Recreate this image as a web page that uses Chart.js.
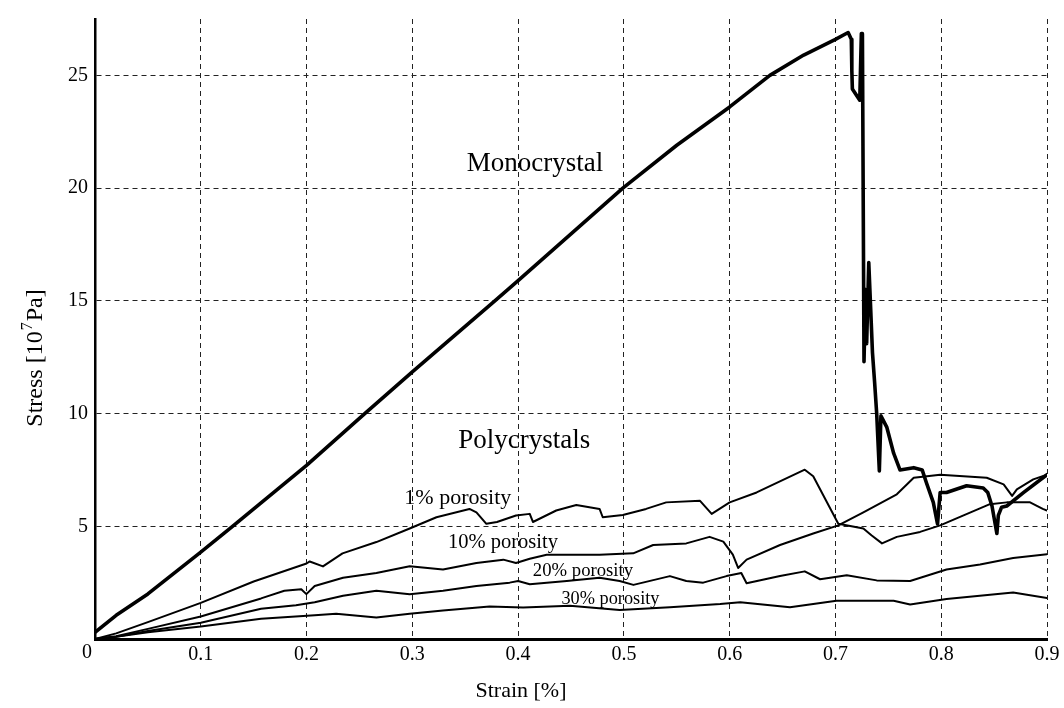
<!DOCTYPE html>
<html>
<head>
<meta charset="utf-8">
<script src="https://cdn.jsdelivr.net/npm/chart.js@4.4.0/dist/chart.umd.min.js"></script>
<style>
html,body{margin:0;padding:0;background:#fff;}
#wrap{width:1064px;height:708px;position:relative;}
</style>
</head>
<body>
<div id="wrap"><canvas id="c"></canvas></div>
<script>
// ---------- data (strain in %, stress in 10^7 Pa) ----------
const monoStrain = [0, 0.02, 0.05, 0.1, 0.13, 0.2, 0.255, 0.3, 0.378, 0.4, 0.499, 0.55, 0.6, 0.638, 0.67, 0.7, 0.712,
  0.715, 0.7155, 0.716, 0.723, 0.7245, 0.7255, 0.727, 0.7285, 0.7295, 0.7315, 0.733, 0.735, 0.737, 0.739, 0.7415,
  0.743, 0.7485, 0.755, 0.761, 0.774, 0.782, 0.786, 0.7925, 0.7965, 0.799, 0.805, 0.824, 0.8397, 0.844, 0.848,
  0.8526, 0.854, 0.857, 0.862, 0.878, 0.9];
const monoStress = [0.3, 1.05, 2.0, 3.85, 5.0, 7.7, 10.0, 11.85, 15.0, 15.9, 20.0, 21.9, 23.6, 25.0, 25.9, 26.6, 26.9,
  26.6, 25.2, 24.4, 23.9, 26.85, 26.85, 12.3, 15.5, 13.1, 16.7, 15.0, 12.7, 11.4, 10.0, 7.45,
  9.9, 9.4, 8.24, 7.5, 7.6, 7.5, 6.93, 6.06, 5.1, 6.5, 6.5, 6.8, 6.7, 6.5, 5.9,
  4.68, 5.48, 5.84, 5.9, 6.5, 7.29];

const p1Strain = [0, 0.02, 0.05, 0.1, 0.15, 0.2, 0.203, 0.2155, 0.234, 0.266, 0.2975, 0.3228, 0.3417, 0.354, 0.3606,
  0.37, 0.38, 0.398, 0.411, 0.414, 0.436, 0.455, 0.477, 0.48, 0.499, 0.521, 0.54, 0.572, 0.583, 0.6, 0.6255,
  0.671, 0.679, 0.7027, 0.7264, 0.734, 0.744, 0.758, 0.78, 0.799, 0.846, 0.862, 0.884, 0.896, 0.9];
const p1Stress = [0, 0.25, 0.75, 1.6, 2.55, 3.35, 3.44, 3.22, 3.8, 4.3, 4.9, 5.4, 5.62, 5.77, 5.62,
  5.11, 5.19, 5.48, 5.55, 5.19, 5.7, 5.94, 5.77, 5.4, 5.5, 5.77, 6.06, 6.13, 5.55, 6.06, 6.5,
  7.51, 7.22, 5.11, 4.9, 4.6, 4.24, 4.53, 4.75, 5.04, 5.98, 6.06, 6.06, 5.77, 5.7];

const p10Strain = [0, 0.02, 0.05, 0.1, 0.157, 0.179, 0.195, 0.1998, 0.2077, 0.2345, 0.266, 0.2975, 0.329, 0.3606,
  0.386, 0.398, 0.411, 0.427, 0.477, 0.5088, 0.5277, 0.559, 0.581, 0.594, 0.603, 0.608, 0.616, 0.6476, 0.679,
  0.7027, 0.7264, 0.758, 0.774, 0.799, 0.821, 0.843, 0.859, 0.867, 0.8715, 0.887, 0.9];
const p10Stress = [0, 0.12, 0.45, 1.0, 1.8, 2.14, 2.21, 1.99, 2.35, 2.72, 2.93, 3.23, 3.08, 3.37,
  3.52, 3.37, 3.56, 3.74, 3.74, 3.8, 4.17, 4.24, 4.53, 4.32, 3.74, 3.15, 3.52, 4.17, 4.68,
  5.04, 5.62, 6.42, 7.15, 7.29, 7.22, 7.15, 6.86, 6.35, 6.64, 7.08, 7.29];

const p20Strain = [0, 0.02, 0.05, 0.1, 0.157, 0.19, 0.2077, 0.2345, 0.266, 0.2975, 0.329, 0.3606, 0.392, 0.4, 0.411,
  0.446, 0.477, 0.496, 0.509, 0.5435, 0.559, 0.575, 0.597, 0.611, 0.616, 0.6476, 0.671, 0.6855, 0.7107, 0.739,
  0.7706, 0.805, 0.8367, 0.868, 0.9];
const p20Stress = [0, 0.1, 0.35, 0.72, 1.34, 1.5, 1.63, 1.92, 2.14, 1.99, 2.14, 2.35, 2.5, 2.57, 2.43,
  2.57, 2.72, 2.57, 2.4, 2.79, 2.57, 2.5, 2.79, 2.93, 2.47, 2.79, 3.0, 2.65, 2.83, 2.6,
  2.57, 3.08, 3.3, 3.59, 3.76];

const p30Strain = [0, 0.02, 0.05, 0.1, 0.157, 0.2077, 0.228, 0.266, 0.2975, 0.329, 0.373, 0.4047, 0.449, 0.496,
  0.5435, 0.591, 0.61, 0.657, 0.701, 0.755, 0.7706, 0.805, 0.868, 0.9];
const p30Stress = [0, 0.1, 0.3, 0.55, 0.9, 1.05, 1.12, 0.95, 1.12, 1.26, 1.44, 1.4, 1.48, 1.29,
  1.41, 1.55, 1.63, 1.41, 1.7, 1.7, 1.53, 1.77, 2.06, 1.82];

const xTickValues = [0, 0.1, 0.2, 0.3, 0.4, 0.5, 0.6, 0.7, 0.8, 0.9];
const yTickValues = [5, 10, 15, 20, 25];

// in-plot text labels and their anchor points (data coordinates)
const noteTexts = ['Monocrystal', 'Polycrystals', '1% porosity', '10% porosity', '20% porosity', '30% porosity'];
const noteStrain = [0.416, 0.4057, 0.343, 0.3857, 0.4613, 0.4873];
const noteStress = [20.76, 8.46, 5.985, 4.02, 2.79, 1.556];
const noteSizes = [27, 27, 22, 20.5, 18.7, 18.3];

const FONT = '"Liberation Serif", "Times New Roman", serif';

function pts(xs, ys) { return xs.map((v, i) => ({x: v, y: ys[i]})); }

const annotate = {
  id: 'annotate',
  beforeDraw(chart) {
    const c = chart.ctx;
    c.save(); c.fillStyle = '#fff'; c.fillRect(0, 0, chart.width, chart.height); c.restore();
  },
  afterDraw(chart) {
    const {ctx, scales: {x, y}} = chart;
    ctx.save();
    ctx.fillStyle = '#000';
    ctx.textAlign = 'center';
    ctx.textBaseline = 'alphabetic';
    noteTexts.forEach((t, i) => {
      ctx.font = noteSizes[i] + 'px ' + FONT;
      ctx.fillText(t, x.getPixelForValue(noteStrain[i]), y.getPixelForValue(noteStress[i]));
    });
    // "0" label of x axis, drawn left of the corner
    ctx.font = '20px ' + FONT;
    ctx.textBaseline = 'top';
    ctx.fillText('0', x.getPixelForValue(0) - 8, y.getPixelForValue(0) + 4);
    // x title
    ctx.font = '22px ' + FONT;
    ctx.textBaseline = 'alphabetic';
    ctx.fillText('Strain [%]', 521, 697);
    // y title with superscript
    ctx.translate(42, 358);
    ctx.rotate(-Math.PI / 2);
    const a = 'Stress [10', s = '7', b = 'Pa]';
    ctx.font = '24px ' + FONT;
    const wa = ctx.measureText(a).width, wb = ctx.measureText(b).width;
    ctx.font = '16px ' + FONT;
    const ws = ctx.measureText(s).width;
    const total = wa + ws + 2 + wb;
    let px = -total / 2;
    ctx.textAlign = 'left';
    ctx.font = '24px ' + FONT;
    ctx.fillText(a, px, 0); px += wa + 1;
    ctx.font = '16px ' + FONT;
    ctx.fillText(s, px, -10); px += ws + 1;
    ctx.font = '24px ' + FONT;
    ctx.fillText(b, px, 0);
    ctx.restore();
  }
};

const lineStyle = (w) => ({borderColor: '#000', borderWidth: w, pointRadius: 0, tension: 0, fill: false,
  borderJoinStyle: 'round', borderCapStyle: 'round'});

new Chart(document.getElementById('c'), {
  type: 'line',
  data: {
    datasets: [
      Object.assign({label: 'Monocrystal', data: pts(monoStrain, monoStress)}, lineStyle(3.6)),
      Object.assign({label: '1% porosity', data: pts(p1Strain, p1Stress)}, lineStyle(2)),
      Object.assign({label: '10% porosity', data: pts(p10Strain, p10Stress)}, lineStyle(2)),
      Object.assign({label: '20% porosity', data: pts(p20Strain, p20Stress)}, lineStyle(2)),
      Object.assign({label: '30% porosity', data: pts(p30Strain, p30Stress)}, lineStyle(2))
    ]
  },
  options: {
    responsive: true,
    maintainAspectRatio: false,
    animation: false,
    parsing: false,
    layout: {padding: {left: 0, right: 17, top: 7, bottom: 0}},
    plugins: {legend: {display: false}, tooltip: {enabled: false}},
    scales: {
      x: {
        type: 'linear', min: 0, max: 0.9, bounds: 'data',
        afterFit: (s) => { s.height = 69; },
        afterBuildTicks: (s) => { s.ticks = xTickValues.map(v => ({value: v})); },
        ticks: {
          font: {family: FONT, size: 20}, color: '#000', padding: 4, maxRotation: 0, autoSkip: false,
          callback: (v) => v === 0 ? '' : (+v).toFixed(1)
        },
        grid: {color: '#222', lineWidth: 1, drawTicks: false},
        border: {display: true, color: '#000', width: 3, dash: [5, 4]}
      },
      y: {
        type: 'linear', min: 0, max: 27.5, bounds: 'data',
        afterFit: (s) => { s.width = 95; },
        afterBuildTicks: (s) => { s.ticks = [0].concat(yTickValues).map(v => ({value: v})); },
        ticks: {
          font: {family: FONT, size: 20}, color: '#000', padding: 7,
          callback: (v) => v === 0 ? '' : String(v)
        },
        grid: {color: '#222', lineWidth: 1, drawTicks: false},
        border: {display: true, color: '#000', width: 2.5, dash: [5, 4]}
      }
    }
  },
  plugins: [annotate]
});
</script>
</body>
</html>
